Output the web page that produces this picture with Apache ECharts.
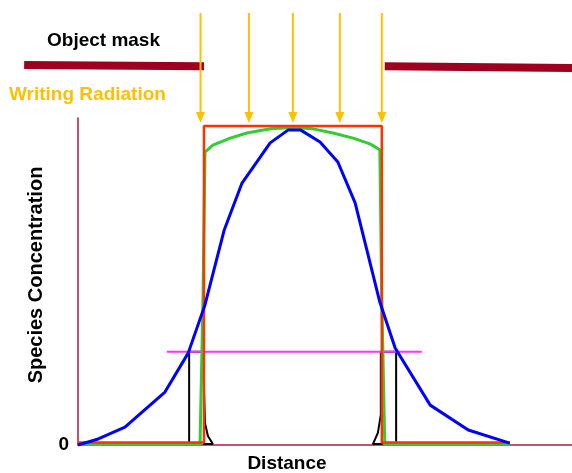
<!DOCTYPE html>
<html>
<head>
<meta charset="utf-8">
<script src="https://cdn.jsdelivr.net/npm/echarts@6/dist/echarts.min.js"></script>
<style>
  html, body { margin: 0; padding: 0; background: #fff; }
  #chart { width: 572px; height: 473px; }
</style>
</head>
<body>
<div id="chart"></div>
<script>
// x: distance (0..100), y: concentration (top of exposure box = 100)
var maskSegments = [
  [-10.9, 119.1, 25.5, 118.7],
  [62.1, 118.7, 100, 118.2]
];
var arrowX = [24.8, 34.6, 43.5, 53.0, 61.5];
var arrowTop = 135.4;
var arrowTip = 100.9;

var exposure = [[0, 0.8], [25.5, 0.8], [25.5, 100], [61.5, 100], [61.5, 0.8], [87.4, 0.8]];
var latent = [
  [0, 0.2], [24.7, 0.2], [25.3, 45.5], [25.7, 91.8], [27.3, 94.0], [30.8, 96.2],
  [34.2, 97.8], [38.9, 99.1], [43.5, 99.5], [47.6, 99.1], [51.6, 97.8], [55.7, 96.2],
  [59.1, 94.4], [61.1, 92.5], [61.5, 45.5], [62.1, 0.2], [87.4, 0.2]
];
var diffused = [
  [0, 0], [4.1, 1.9], [9.5, 5.6], [17.6, 16.6], [22.3, 28.8], [25.7, 43.9],
  [29.6, 67.4], [33.2, 82.1], [38.9, 94.7], [42.5, 98.7], [45.1, 98.7], [49.0, 95.0],
  [52.6, 88.7], [56.1, 75.9], [61.1, 44.8], [64.2, 30.4], [71.3, 12.5], [79.0, 4.7], [87.4, 0.6]
];
var threshold = [[18.0, 29.2], [69.6, 29.2]];
var leftProfile = [[22.5, 0.9], [22.5, 29.2], [25.3, 29.2], [25.3, 28.8], [25.7, 6.9], [26.3, 2.8], [27.3, 0.3], [25.3, 0.3]];
var rightProfile = [[64.4, 0.3], [64.4, 29.2], [61.3, 29.2], [61.3, 9.4], [60.7, 3.8], [59.7, 0.3], [61.7, 0.3]];

var chart = echarts.init(document.getElementById("chart"));
var font = "Liberation Sans, Arial, sans-serif";

function plain(name, data, color, width, z) {
  return {
    name: name,
    type: "line",
    data: data,
    symbol: "none",
    clip: false,
    z: z,
    lineStyle: { color: color, width: width },
    silent: true
  };
}

var option = {
  animation: false,
  backgroundColor: "#fff",
  grid: { left: 78, right: 0, top: 118, bottom: 28, outerBoundsMode: "none" },
  xAxis: {
    type: "value",
    min: 0,
    max: 100,
    axisLine: { show: true, lineStyle: { color: "#b01840", width: 1.5 } },
    axisTick: { show: false },
    axisLabel: { show: false },
    splitLine: { show: false }
  },
  yAxis: {
    type: "value",
    min: 0,
    max: 102.5,
    axisLine: { show: true, lineStyle: { color: "#b01840", width: 1.5 } },
    axisTick: { show: false },
    splitLine: { show: false },
    axisLabel: {
      margin: 9,
      color: "#000",
      fontWeight: "bold",
      fontSize: 19,
      fontFamily: font,
      formatter: function (v) { return v === 0 ? "0" : ""; }
    }
  },
  graphic: [
    { type: "text", x: 47, y: 41, style: { text: "Object mask", fill: "#000", font: "bold 19px " + font, textVerticalAlign: "middle" } },
    { type: "text", x: 9, y: 95, style: { text: "Writing Radiation", fill: "#ffc000", font: "bold 19px " + font, textVerticalAlign: "middle" } },
    { type: "text", x: 287, y: 464, style: { text: "Distance", fill: "#000", font: "bold 19px " + font, textAlign: "center", textVerticalAlign: "middle" } },
    { type: "text", x: 36, y: 275, rotation: Math.PI / 2, style: { text: "Species Concentration", fill: "#000", font: "bold 20px " + font, textAlign: "center", textVerticalAlign: "middle" } }
  ],
  series: [
    {
      name: "mask",
      type: "custom",
      clip: false,
      silent: true,
      z: 2,
      data: maskSegments,
      encode: { x: [0, 2], y: [1, 3] },
      renderItem: function (params, api) {
        var a = api.coord([api.value(0), api.value(1)]);
        var b = api.coord([api.value(2), api.value(3)]);
        return {
          type: "line",
          shape: { x1: a[0], y1: a[1], x2: b[0], y2: b[1] },
          style: { stroke: "#a00020", lineWidth: 8 }
        };
      }
    },
    {
      name: "radiation",
      type: "custom",
      clip: false,
      silent: true,
      z: 2,
      data: arrowX.map(function (x) { return [x, arrowTop, arrowTip]; }),
      encode: { x: 0, y: [1, 2] },
      renderItem: function (params, api) {
        var p0 = api.coord([api.value(0), api.value(1)]);
        var p1 = api.coord([api.value(0), api.value(2)]);
        return {
          type: "group",
          children: [
            { type: "line", shape: { x1: p0[0], y1: p0[1], x2: p1[0], y2: p1[1] - 8 }, style: { stroke: "#ffc000", lineWidth: 2 } },
            { type: "polygon", shape: { points: [[p1[0] - 4.5, p1[1] - 11], [p1[0] + 4.5, p1[1] - 11], [p1[0], p1[1]]] }, style: { fill: "#ffc000" } }
          ]
        };
      }
    },
    plain("left profile", leftProfile, "#000", 2, 3),
    plain("right profile", rightProfile, "#000", 2, 3),
    plain("threshold", threshold, "#ff33ff", 2, 4),
    plain("latent", latent, "#33cc33", 3, 5),
    plain("exposure", exposure, "#ff3300", 2.5, 6),
    plain("diffused", diffused, "#0000ff", 3, 7)
  ]
};
chart.setOption(option);
</script>
</body>
</html>
